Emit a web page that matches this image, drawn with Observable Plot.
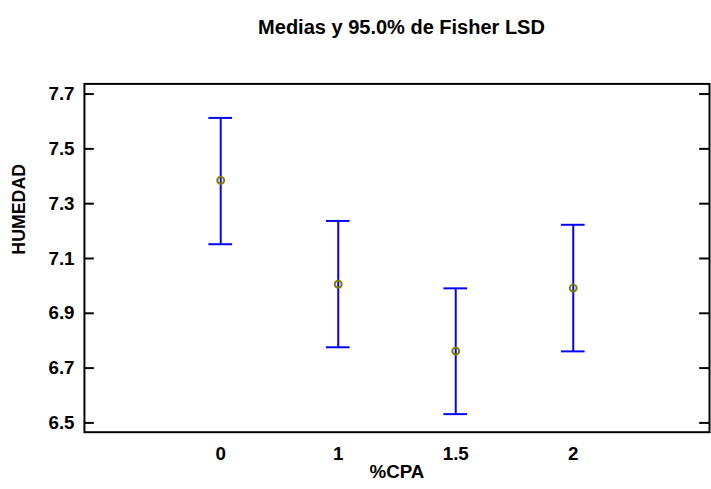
<!DOCTYPE html>
<html>
<head>
<meta charset="utf-8">
<script src="https://cdn.jsdelivr.net/npm/d3@7"></script>
<script src="https://cdn.jsdelivr.net/npm/@observablehq/plot@0.6"></script>
<style>
  html, body { margin: 0; padding: 0; background: #fff; overflow: hidden; width: 711px; height: 489px; }
  #title { font-family: "Liberation Sans", Arial, sans-serif; font-weight: bold; font-size: 20px;
           line-height: 20px; padding-top: 17px; height: 20px; text-align: center;
           padding-left: 83px; box-sizing: content-box; width: 637px; }
</style>
</head>
<body>
<div id="title">Medias y 95.0% de Fisher LSD</div>
<div id="chart"></div>
<script>
const categories = ["0", "1", "1.5", "2"];
const means = [7.385, 7.006, 6.762, 6.992];
const lower = [7.152, 6.776, 6.532, 6.761];
const upper = [7.613, 7.237, 6.991, 7.223];
const yTicks = [6.5, 6.7, 6.9, 7.1, 7.3, 7.5, 7.7];
const xLabel = "%CPA";
const yLabel = "HUMEDAD";

const rows = categories.map((c, i) => ({cat: c, mean: means[i], lo: lower[i], hi: upper[i]}));

const W = 720, H = 452, ML = 85, MR = 2, MT = 47, MB = 52.3;
const frameW = W - ML - MR;
const font = "'Liberation Sans', Arial, sans-serif";

const chart = Plot.plot({
  width: W,
  height: H,
  marginLeft: ML,
  marginRight: MR,
  marginTop: MT,
  marginBottom: MB,
  style: {fontFamily: font, fontWeight: "bold", fontSize: "19px", color: "black", background: "white"},
  x: {type: "band", domain: categories, paddingInner: 0.8, paddingOuter: 1.0375, align: 0.5},
  y: {domain: [6.4661, 7.7371]},
  marks: [
    Plot.axisY({ticks: yTicks, tickSize: 0, tickPadding: 10, tickFormat: d => d.toFixed(1),
                fontSize: 19, fontWeight: "bold", label: null}),
    Plot.axisX({tickSize: 0, tickPadding: 15, fontSize: 19, fontWeight: "bold", label: null}),
    Plot.tickY(yTicks, {y: d => d, stroke: "black", strokeWidth: 2, insetRight: frameW - 10}),
    Plot.tickY(yTicks, {y: d => d, stroke: "black", strokeWidth: 2, insetLeft: frameW - 10}),
    Plot.ruleX(rows, {x: "cat", y1: "lo", y2: "hi", stroke: "#0000ff", strokeWidth: 2}),
    Plot.tickY(rows, {x: "cat", y: "hi", stroke: "#0000ff", strokeWidth: 2}),
    Plot.tickY(rows, {x: "cat", y: "lo", stroke: "#0000ff", strokeWidth: 2}),
    Plot.dot(rows, {x: "cat", y: "mean", r: 3.5, stroke: "#808000", strokeWidth: 2, fill: "none"}),
    Plot.frame({stroke: "black", strokeWidth: 2}),
    Plot.text([xLabel], {frameAnchor: "bottom", text: d => d, dy: 40.5, lineAnchor: "middle",
                         fontSize: 19, fontWeight: "bold"}),
    Plot.text([yLabel], {frameAnchor: "left", text: d => d, rotate: -90, dx: -66, dy: -3.4,
                         lineAnchor: "middle", fontSize: 18, fontWeight: "bold"})
  ]
});
document.getElementById("chart").appendChild(chart);
</script>
</body>
</html>
